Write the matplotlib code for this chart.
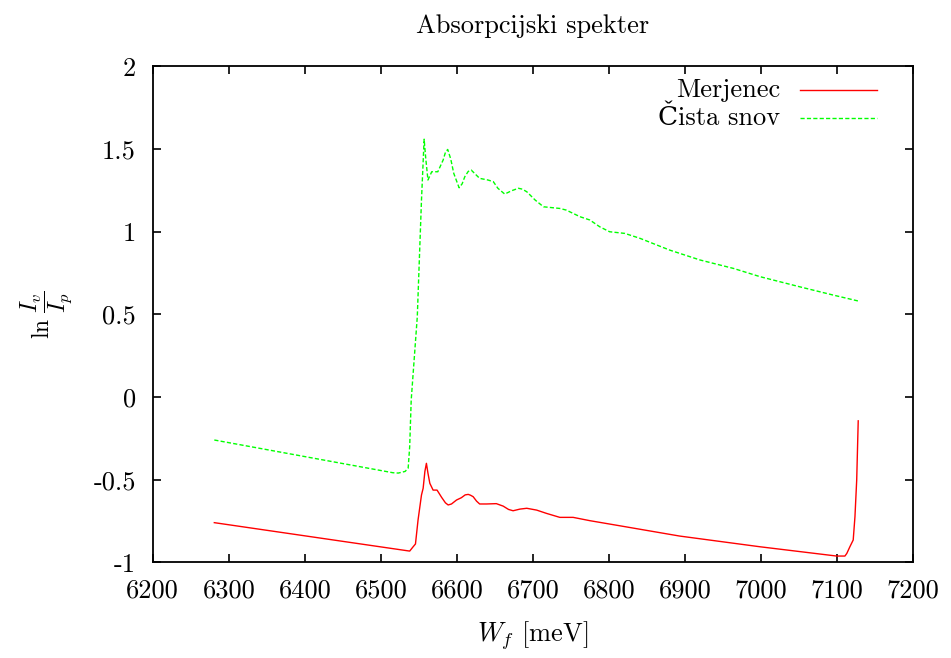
import matplotlib
matplotlib.use("Agg")
import matplotlib.pyplot as plt
import numpy as np

plt.rcParams['font.family'] = ['cmr10', 'DejaVu Serif']
plt.rcParams['mathtext.fontset'] = 'cm'
plt.rcParams['axes.unicode_minus'] = False

# Merjenec (rdeca)
merjenec_x = [6281, 6538, 6542.5, 6545.6, 6549, 6553.5, 6555.7, 6558, 6560, 6562, 6564.5, 6568.8,
              6574, 6580, 6585, 6588.6, 6593, 6599.6, 6606, 6611, 6615, 6618, 6621.5, 6626, 6630, 6639,
              6652, 6661, 6668, 6674, 6683, 6692, 6705, 6718, 6735.5, 6753, 6775,
              6814.5, 6893, 6999, 7099.6, 7110.5, 7113, 7117, 7121.4, 7123.7, 7126, 7128]
merjenec_y = [-0.760, -0.932, -0.906, -0.889, -0.744, -0.593, -0.552, -0.45, -0.401, -0.46, -0.522, -0.563,
              -0.563, -0.607, -0.64, -0.653, -0.647, -0.623, -0.609, -0.592, -0.589, -0.594, -0.603, -0.63, -0.647, -0.647,
              -0.645, -0.660, -0.68, -0.688, -0.678, -0.673, -0.684, -0.704, -0.728, -0.728, -0.748,
              -0.779, -0.841, -0.906, -0.962, -0.962, -0.946, -0.906, -0.865, -0.724, -0.502, -0.144]

# Cista snov (zelena)
cista_x = [6281, 6516, 6523, 6532, 6536, 6538, 6540, 6548, 6553.5, 6557, 6559, 6562, 6567,
           6575, 6582, 6585, 6588, 6592, 6596, 6603, 6607, 6610.5, 6615, 6619, 6624, 6630, 6641, 6648,
           6654, 6663, 6672, 6681, 6686, 6692, 6703, 6714, 6735.5, 6744, 6762,
           6775, 6788, 6801, 6821, 6841, 6880, 6920, 6964, 6999, 7051,
           7095, 7128]
cista_y = [-0.26, -0.458, -0.46, -0.45, -0.43, -0.3, -0.018, 0.486, 1.19, 1.56, 1.45, 1.313, 1.363,
           1.363, 1.434, 1.48, 1.498, 1.44, 1.353, 1.266, 1.29, 1.333, 1.365, 1.373, 1.35, 1.323, 1.313, 1.303,
           1.263, 1.228, 1.248, 1.263, 1.258, 1.242, 1.192, 1.151, 1.141, 1.131, 1.091,
           1.071, 1.03, 1.0, 0.99, 0.96, 0.889, 0.829, 0.778, 0.728, 0.667,
           0.617, 0.581]

xticks = [6200, 6300, 6400, 6500, 6600, 6700, 6800, 6900, 7000, 7100, 7200]
yticks = [-1, -0.5, 0, 0.5, 1, 1.5, 2]
ytick_labels = ["-1", "-0.5", "0", "0.5", "1", "1.5", "2"]

fig = plt.figure(figsize=(9.51, 6.58), dpi=100)
ax = fig.add_axes([0.1606, 0.1454, 0.7994, 0.7536])

ax.plot(merjenec_x, merjenec_y, color="#ff0000", lw=1.0)
ax.plot(cista_x, cista_y, color="#00ff00", lw=1.0, dashes=(3, 1.6))

ax.set_xlim(6200, 7200)
ax.set_ylim(-1, 2)
ax.set_xticks(xticks)
ax.set_xticklabels([str(t) for t in xticks])
ax.set_yticks(yticks)
ax.set_yticklabels(ytick_labels)
ax.tick_params(direction='in', length=6, width=1.2, top=True, right=True,
               labelsize=19, pad=12)
for s in ax.spines.values():
    s.set_linewidth(1.3)

ax.set_title("Absorpcijski spekter", fontsize=19, pad=24)
ax.set_xlabel(r"$W_f$ [meV]", fontsize=19, labelpad=12)
ax.set_ylabel(r"$\ln\,\dfrac{I_v}{I_p}$", fontsize=17, labelpad=14)

# legenda (gnuplot slog)
leg = [("Merjenec", "#ff0000", None), ("Čista snov", "#00ff00", (3, 1.6))]
for i, (lab, col, ds) in enumerate(leg):
    yy = 0.953 - i * 0.057
    ax.text(0.825, yy, lab, transform=ax.transAxes, ha='right', va='center', fontsize=19)
    ln, = ax.plot([0.851, 0.953], [yy, yy], transform=ax.transAxes, color=col, lw=1.0)
    if ds:
        ln.set_dashes(ds)

fig.savefig("out.png", dpi=100)
